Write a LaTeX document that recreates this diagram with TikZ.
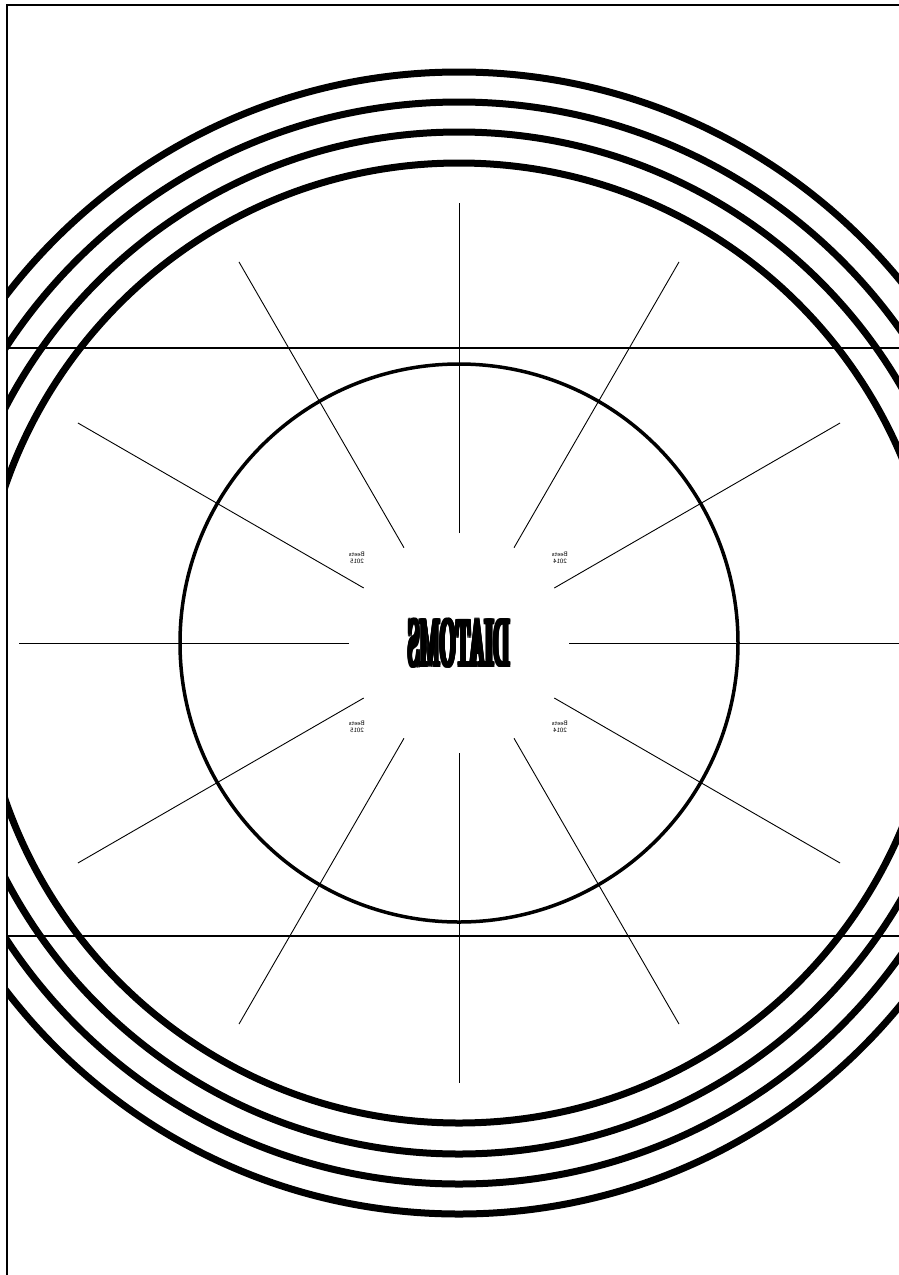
\documentclass[tikz,border=0pt]{standalone}
\usepackage{tikz}
\usetikzlibrary{positioning,calc}

\tikzset{
    ring/.style={line width=7},
    spoke/.style={line width=0.9},
    stamp/.style={xscale=-1, font=\sffamily\fontsize{6.5}{7}\selectfont, align=center, inner sep=0},
    title/.style={xscale=-1, yscale=3.5, font=\bfseries\fontsize{19}{19}\selectfont, inner sep=0}
}

\begin{document}
\begin{tikzpicture}[x=1pt,y=-1pt]
    \useasboundingbox (0,0) rectangle (899,1275);
    \coordinate (c) at (459,643);

    % page frame
    \draw[line width=2] (7,1290) |- (910,5);

    \begin{scope}
        \clip (7,5) rectangle (899,1275);
        % outer rings
        \foreach \r in {571,541,511,480}
            \draw[ring] (c) circle (\r);

        % band lines
        \draw[line width=2] (7,348) -- (910,348);
        \draw[line width=2] (7,936) -- (910,936);
    \end{scope}

    % inner circle
    \draw[line width=3.5] (c) circle (279);

    % spokes
    \foreach \a in {0,30,...,330}
        \draw[spoke] ($(c)+(\a:110)$) -- ($(c)+(\a:440)$);

    % heavy mirrored title, thickened by small shifts
    \foreach \dx in {-1.6,-0.8,0,0.8,1.6}
        \foreach \dy in {-1.5,0,1.5}
            \node[title] (title) at ($(c)+(\dx,\dy)$) {DIATOMS};

    \node[stamp] (ul) at (357,558) {Beets\\2015};
    \node[stamp] (ur) at (560,558) {Beets\\2014};
    \node[stamp] (ll) at (357,727) {Beets\\2015};
    \node[stamp] (lr) at (560,727) {Beets\\2014};
\end{tikzpicture}
\end{document}
